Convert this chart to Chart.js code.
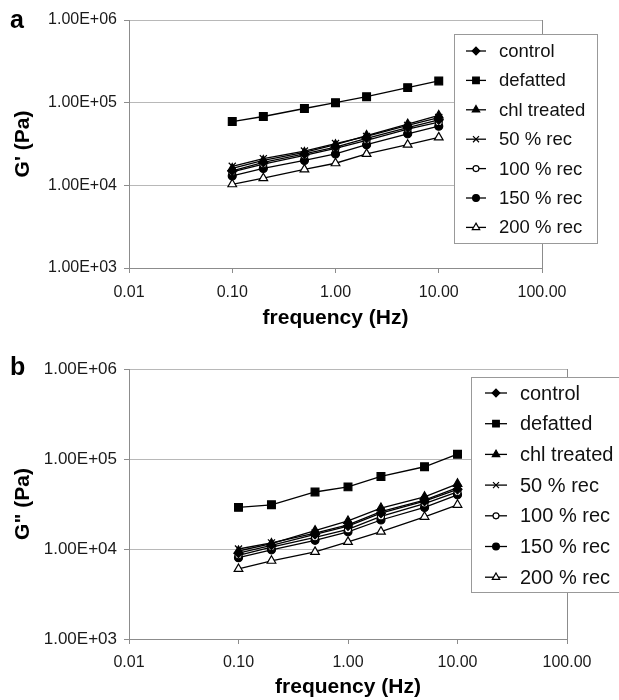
<!DOCTYPE html>
<html>
<head>
<meta charset="utf-8">
<script src="https://cdn.jsdelivr.net/npm/chart.js@4.4.1/dist/chart.umd.min.js"></script>
<style>
  body { margin: 0; background: #fff; }
  canvas { display: block; }
</style>
</head>
<body>
<canvas id="chartA" width="619" height="340"></canvas>
<canvas id="chartB" width="619" height="360"></canvas>
<script>
// frequency sweep (Hz) and axis ticks
const frequency = [0.1, 0.2, 0.5, 1, 2, 5, 10];
const xTicks = [0.01, 0.1, 1, 10, 100];
const yTicks = [1e3, 1e4, 1e5, 1e6];
const seriesLabels = ['control', 'defatted', 'chl treated', '50 % rec', '100 % rec', '150 % rec', '200 % rec'];

// panel a: G' (Pa)
const gpControl   = [15000, 19000, 24000, 29000, 37000, 50000, 62000];
const gpDefatted  = [59000, 68000, 85000, 100000, 118000, 152000, 183000];
const gpChl       = [16000, 20000, 25000, 31000, 40000, 55000, 70000];
const gpRec50     = [17000, 21000, 26000, 32000, 39000, 53000, 66000];
const gpRec100    = [14500, 18000, 23000, 28000, 35000, 48000, 58000];
const gpRec150    = [13000, 16000, 20000, 24000, 31000, 42000, 52000];
const gpRec200    = [10300, 12200, 15600, 18500, 24000, 31000, 38000];

// panel b: G'' (Pa)
const gppControl  = [9000, 11000, 14500, 18000, 25000, 34000, 46000];
const gppDefatted = [29000, 31000, 43000, 49000, 64000, 82000, 113000];
const gppChl      = [9500, 11500, 16000, 20500, 28500, 38000, 53000];
const gppRec50    = [10000, 11700, 15000, 18500, 26000, 35000, 48000];
const gppRec100   = [8500, 10500, 13500, 16500, 23000, 32000, 43000];
const gppRec150   = [8000, 9800, 12500, 15500, 21000, 29000, 40000];
const gppRec200   = [6000, 7400, 9300, 12000, 15600, 22800, 31000];

const markers = [
  { pointStyle: 'rectRot', radius: 4.5, fill: '#000' },
  { pointStyle: 'rect', radius: 5.5, fill: '#000' },
  { pointStyle: 'triangle', radius: 5, fill: '#000' },
  { pointStyle: 'crossRot', radius: 5, fill: '#000' },
  { pointStyle: 'circle', radius: 3.5, fill: '#fff' },
  { pointStyle: 'circle', radius: 4, fill: '#000' },
  { pointStyle: 'triangle', radius: 5, fill: '#fff' }
];

Chart.defaults.font.family = '"Liberation Sans", Arial, sans-serif';
Chart.defaults.color = '#1a1a1a';

function makeDatasets(series) {
  return series.map((vals, i) => ({
    label: seriesLabels[i],
    data: vals.map((v, j) => ({ x: frequency[j], y: v })),
    borderColor: '#000',
    borderWidth: 1.3,
    tension: 0,
    pointStyle: markers[i].pointStyle,
    pointRadius: markers[i].radius,
    pointBackgroundColor: markers[i].fill,
    pointBorderColor: '#000',
    pointBorderWidth: 1.2
  }));
}

function sciLabel(v) {
  const parts = Number(v).toExponential(2).split('e');
  const n = parseInt(parts[1], 10);
  return parts[0] + 'E' + (n < 0 ? '-' : '+') + String(Math.abs(n)).padStart(2, '0');
}

// legend box drawn over the plot, like the original
const boxLegend = {
  id: 'boxLegend',
  afterDraw(chart, args, o) {
    const ctx = chart.ctx;
    ctx.save();
    ctx.fillStyle = '#fff';
    ctx.strokeStyle = '#999';
    ctx.lineWidth = 1;
    ctx.fillRect(o.left, o.top, o.width, o.height);
    ctx.strokeRect(o.left + 0.5, o.top + 0.5, o.width, o.height);
    ctx.font = o.fontSize + 'px "Liberation Sans", Arial, sans-serif';
    ctx.textBaseline = 'middle';
    chart.data.datasets.forEach((ds, i) => {
      const y = o.rowStart + i * o.rowGap;
      ctx.strokeStyle = '#000';
      ctx.lineWidth = 1.3;
      ctx.beginPath();
      ctx.moveTo(o.lineX, y);
      ctx.lineTo(o.lineX + o.lineLen, y);
      ctx.stroke();
      ctx.fillStyle = ds.pointBackgroundColor;
      ctx.lineWidth = 1.2;
      Chart.helpers.drawPoint(ctx, {
        pointStyle: ds.pointStyle, radius: ds.pointRadius * 0.85, rotation: 0, borderWidth: 1.2
      }, o.lineX + o.lineLen / 2, y);
      ctx.fillStyle = '#111';
      ctx.fillText(ds.label, o.textX, y + 1);
    });
    ctx.restore();
  }
};

const panelLetter = {
  id: 'panelLetter',
  afterDraw(chart, args, o) {
    const ctx = chart.ctx;
    ctx.save();
    ctx.font = 'bold 25px "Liberation Sans", Arial, sans-serif';
    ctx.fillStyle = '#000';
    ctx.textBaseline = 'alphabetic';
    ctx.fillText(o.text, o.x, o.y);
    ctx.restore();
  }
};

function makeChart(id, series, p) {
  new Chart(document.getElementById(id), {
    type: 'line',
    data: { datasets: makeDatasets(series) },
    plugins: [boxLegend, panelLetter],
    options: {
      responsive: false,
      animation: false,
      layout: { padding: { top: p.top, right: p.right, left: 0, bottom: 0 } },
      plugins: {
        legend: { display: false },
        tooltip: { enabled: false },
        boxLegend: p.legend,
        panelLetter: p.letter
      },
      scales: {
        x: {
          type: 'logarithmic',
          min: 0.01,
          max: 100,
          afterBuildTicks: s => { s.ticks = xTicks.map(v => ({ value: v })); },
          afterFit: s => { s.height = p.xHeight; },
          ticks: {
            autoSkip: false, maxRotation: 0, padding: p.xPad,
            font: { size: p.xFont },
            callback: v => Number(v).toFixed(2)
          },
          grid: {
            color: c => (c.tick && c.tick.value === 100 ? '#8c8c8c' : 'rgba(0,0,0,0)'),
            tickColor: '#8c8c8c',
            tickLength: 5
          },
          border: { display: true, color: '#8c8c8c' },
          title: {
            display: true, text: 'frequency (Hz)',
            font: { size: 21, weight: 'bold' },
            color: '#000',
            padding: { top: 0, bottom: p.xTitlePad }
          }
        },
        y: {
          type: 'logarithmic',
          min: 1e3,
          max: 1e6,
          afterBuildTicks: s => { s.ticks = yTicks.map(v => ({ value: v })); },
          afterFit: s => { s.width = 129; },
          ticks: {
            autoSkip: false, padding: 7,
            font: { size: p.yFont },
            callback: v => sciLabel(v)
          },
          grid: { color: '#b8b8b8', tickColor: '#8c8c8c', tickLength: 5 },
          border: { display: true, color: '#8c8c8c' },
          title: {
            display: true, text: p.yTitle,
            font: { size: 21, weight: 'bold' },
            color: '#000',
            padding: { top: 11, bottom: 0 }
          }
        }
      }
    }
  });
}

makeChart('chartA', [gpControl, gpDefatted, gpChl, gpRec50, gpRec100, gpRec150, gpRec200], {
  top: 20, right: 77, xHeight: 72, xPad: 10, xFont: 16, yFont: 16, xTitlePad: 9,
  yTitle: "G' (Pa)",
  legend: { left: 454, top: 34, width: 143, height: 209, rowStart: 51, rowGap: 29.4,
            lineX: 466, lineLen: 20, textX: 499, fontSize: 18.5 },
  letter: { text: 'a', x: 10, y: 28 }
});

makeChart('chartB', [gppControl, gppDefatted, gppChl, gppRec50, gppRec100, gppRec150, gppRec200], {
  top: 29, right: 52, xHeight: 61, xPad: 9, xFont: 16, yFont: 17, xTitlePad: 0,
  yTitle: 'G" (Pa)',
  legend: { left: 471, top: 37, width: 148, height: 215, rowStart: 53, rowGap: 30.7,
            lineX: 485, lineLen: 22, textX: 520, fontSize: 20 },
  letter: { text: 'b', x: 10, y: 35 }
});
</script>
</body>
</html>
